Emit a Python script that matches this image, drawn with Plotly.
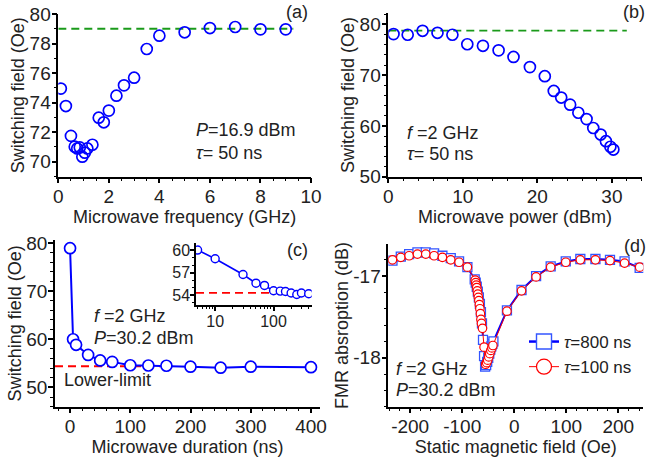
import plotly.graph_objects as go

W, H = 646, 461
FONT = "Liberation Sans, Arial, sans-serif"
TXT = "#222222"
BLUE = "#0000ff"
GREEN = "#1a9a1a"
RED = "#ff0000"
DASH = "8px,5px"

# ---------------- (a) switching field vs microwave frequency ----------------
freq_ghz = [0.1, 0.3, 0.5, 0.65, 0.75, 0.85, 0.95, 1.05, 1.15, 1.35, 1.6, 1.8,
            2.0, 2.3, 2.6, 3.0, 3.5, 4.0, 5.0, 6.0, 7.0, 8.0, 9.0]
hsw_a = [74.95, 73.77, 71.75, 71.02, 70.9, 70.97, 70.34, 70.61, 70.9, 71.15, 72.98, 72.67,
         73.46, 74.47, 75.17, 75.69, 77.63, 78.53, 78.76, 79.05, 79.12, 78.96, 78.96]
ref_a_x = [0, 9.3]
ref_a_y = [79.0, 79.0]

# ---------------- (b) switching field vs microwave power ----------------
power_dbm = [0.7, 2.6, 4.6, 6.6, 8.6, 10.6, 12.7, 14.8, 16.8, 19.0, 21.0, 22.2,
             23.2, 24.4, 25.5, 26.6, 27.5, 28.5, 29.2, 29.8, 30.2]
hsw_b = [78.1, 77.97, 78.75, 78.36, 77.97, 76.1, 75.8, 74.9, 73.6, 71.6, 69.8, 66.9,
         65.6, 64.2, 62.6, 61.35, 59.6, 58.3, 57.0, 55.9, 55.35]
ref_b_x = [0, 32]
ref_b_y = [78.8, 78.8]

# ---------------- (c) switching field vs microwave duration ----------------
duration_ns = [0, 5, 10, 30, 50, 70, 100, 130, 160, 200, 250, 300, 400]
hsw_c = [78.9, 60.0, 58.85, 56.75, 55.6, 55.3, 54.6, 54.55, 54.5, 54.3, 54.1, 54.3, 54.2]
lower_x = [-25, 150]
lower_inset_x = [4.7, 450]
lower_y = 54.4

# ---------------- (d) FMR absorption vs static field ----------------
field_100 = [-234, -218, -202, -186, -170, -154, -138, -122, -106, -90,
             -75, -74, -73, -72, -71, -70, -69, -68, -67, -66, -65, -64, -63, -61,
             -58, -55, -53, -51, -49, -47, -45, -43, -41,
             -14, 14, 42, 70, 99, 127, 156, 184, 212, 241]
fmr_100 = [-16.80, -16.77, -16.75, -16.73, -16.73, -16.75, -16.77, -16.80, -16.83, -16.89,
           -17.05, -17.08, -17.11, -17.14, -17.18, -17.22, -17.26, -17.30, -17.35, -17.40,
           -17.46, -17.53, -17.58, -17.64,
           -17.87, -18.08, -18.06, -18.03, -17.99, -17.95, -17.91, -17.88, -17.85,
           -17.43, -17.18, -17.01, -16.89, -16.83, -16.80, -16.80, -16.81, -16.84, -16.89]
field_800 = [-234, -218, -202, -186, -170, -154, -138, -122, -106, -90,
             -76, -74, -72, -70, -68, -66, -64, -62, -60, -58, -56, -54, -52, -50,
             -48, -46, -44, -42, -40,
             -14, 14, 42, 70, 99, 127, 156, 184, 212, 241]
fmr_800 = [-16.81, -16.76, -16.73, -16.71, -16.71, -16.72, -16.75, -16.78, -16.82, -16.89,
           -17.04, -17.08, -17.13, -17.19, -17.26, -17.34, -17.44, -17.58, -17.78, -17.98,
           -18.11, -18.09, -18.05, -18.00, -17.95, -17.90, -17.86, -17.83, -17.80,
           -17.42, -17.17, -17.00, -16.88, -16.82, -16.79, -16.79, -16.80, -16.82, -16.90]
legend_names = ["<i>τ</i>=800 ns", "<i>τ</i>=100 ns"]


def px(x):
    return x / W


def py(y):
    return 1 - y / H


def axis(domain, rng, anchor, dtick=None, minor=None, title=None, standoff=0,
         tickvals=None, ticktext=None, tick0=None, size=19, **kw):
    d = dict(domain=domain, range=rng, anchor=anchor, showline=True, linecolor="black",
             linewidth=1.5, ticks="outside", ticklen=5, tickwidth=1.5, tickcolor="black",
             showgrid=False, zeroline=False, automargin=False, ticklabelstandoff=-3,
             tickfont=dict(family=FONT, size=size, color=TXT))
    if dtick is not None:
        d["dtick"] = dtick
    if tick0 is not None:
        d["tick0"] = tick0
    if tickvals is not None:
        d["tickmode"] = "array"
        d["tickvals"] = tickvals
        if ticktext is not None:
            d["ticktext"] = ticktext
    if minor is not None:
        m = dict(ticks="outside", ticklen=3, tickwidth=1.2, tickcolor="black", showgrid=False)
        m.update(minor)
        d["minor"] = m
    if title:
        d["title"] = dict(text=title, standoff=standoff, font=dict(family=FONT, size=18, color=TXT))
    d.update(kw)
    return d


fig = go.Figure()

# (a)
fig.add_trace(go.Scatter(x=ref_a_x, y=ref_a_y, mode="lines", xaxis="x", yaxis="y",
                         line=dict(color=GREEN, width=1.8, dash=DASH), showlegend=False))
fig.add_trace(go.Scatter(x=freq_ghz, y=hsw_a, mode="markers", xaxis="x", yaxis="y",
                         marker=dict(symbol="circle-open", size=11, color=BLUE, line=dict(width=1.7)),
                         showlegend=False))
# (b)
fig.add_trace(go.Scatter(x=ref_b_x, y=ref_b_y, mode="lines", xaxis="x2", yaxis="y2",
                         line=dict(color=GREEN, width=1.8, dash=DASH), showlegend=False))
fig.add_trace(go.Scatter(x=power_dbm, y=hsw_b, mode="markers", xaxis="x2", yaxis="y2",
                         marker=dict(symbol="circle-open", size=11, color=BLUE, line=dict(width=1.7)),
                         showlegend=False))
# (c)
fig.add_trace(go.Scatter(x=lower_x, y=[lower_y, lower_y], mode="lines", xaxis="x3", yaxis="y3",
                         line=dict(color=RED, width=1.8, dash=DASH), showlegend=False))
fig.add_trace(go.Scatter(x=duration_ns, y=hsw_c, mode="lines+markers", xaxis="x3", yaxis="y3",
                         line=dict(color=BLUE, width=2),
                         marker=dict(symbol="circle", size=11, color="white",
                                     line=dict(color=BLUE, width=1.7)),
                         showlegend=False))
# inset
fig.add_trace(go.Scatter(x=lower_inset_x, y=[lower_y - 0.1, lower_y - 0.1], mode="lines",
                         xaxis="x5", yaxis="y5",
                         line=dict(color=RED, width=1.8, dash=DASH), showlegend=False))
fig.add_trace(go.Scatter(x=duration_ns[1:], y=hsw_c[1:], mode="lines+markers", xaxis="x5", yaxis="y5",
                         line=dict(color=BLUE, width=1.6),
                         marker=dict(symbol="circle", size=8, color="white",
                                     line=dict(color=BLUE, width=1.4)),
                         showlegend=False))
# (d)
fig.add_trace(go.Scatter(x=field_800, y=fmr_800, mode="lines+markers", xaxis="x4", yaxis="y4",
                         line=dict(color=BLUE, width=2),
                         marker=dict(symbol="square", size=9, color="white",
                                     line=dict(color="#3355ff", width=1.3)),
                         showlegend=False))
fig.add_trace(go.Scatter(x=field_100, y=fmr_100, mode="lines+markers", xaxis="x4", yaxis="y4",
                         line=dict(color=RED, width=1),
                         marker=dict(symbol="circle", size=8.5, color="white",
                                     line=dict(color=RED, width=1.2)),
                         showlegend=False))
# legend entries
fig.add_trace(go.Scatter(x=[None], y=[None], mode="lines+markers", xaxis="x4", yaxis="y4",
                         name=legend_names[0], line=dict(color=BLUE, width=2.5),
                         marker=dict(symbol="square", size=15, color="white",
                                     line=dict(color="#3355ff", width=1.4))))
fig.add_trace(go.Scatter(x=[None], y=[None], mode="lines+markers", xaxis="x4", yaxis="y4",
                         name=legend_names[1], line=dict(color=RED, width=1),
                         marker=dict(symbol="circle", size=15, color="white",
                                     line=dict(color=RED, width=1.2))))

inset_minor = [v * m for m in (1, 10, 100) for v in range(2, 10) if 4.7 <= v * m <= 450]

fig.update_layout(
    width=W, height=H, margin=dict(l=0, r=0, t=0, b=0),
    paper_bgcolor="white", plot_bgcolor="rgba(0,0,0,0)",
    font=dict(family=FONT, color=TXT),
    xaxis=axis([px(58.3), px(311)], [0, 10], "y", dtick=2, minor=dict(dtick=0.5),
               title="Microwave frequency (GHz)"),
    yaxis=axis([py(176.5), py(14)], [69, 80], "x", dtick=2, minor=dict(dtick=1),
               title="Switching field (Oe)"),
    xaxis2=axis([px(388.3), px(641.7)], [0, 34], "y2", dtick=10, minor=dict(dtick=2),
                title="Microwave power (dBm)"),
    yaxis2=axis([py(176.7), py(13.3)], [50, 82.2], "x2", dtick=10, minor=dict(dtick=2),
                title="Switching field (Oe)"),
    xaxis3=axis([px(55), px(320)], [-25, 415], "y3", dtick=100, tick0=0, minor=dict(dtick=20),
                title="Microwave duration (ns)"),
    yaxis3=axis([py(406.7), py(240)], [46, 80.6], "x3", dtick=10, tick0=0, minor=dict(dtick=2),
                title="Switching field (Oe)"),
    xaxis4=axis([px(388.3), px(643.3)], [-242, 248], "y4",
                tickvals=[-200, -100, 0, 100, 200], ticktext=["-200", "-100", "0", "100", "200"],
                minor=dict(dtick=20, tick0=0), title="Static magnetic field (Oe)"),
    yaxis4=axis([py(406.7), py(244.3)], [-18.6, -16.61], "x4",
                tickvals=[-18, -17], ticktext=["-18", "-17"],
                minor=dict(dtick=0.2, tick0=0), title="FMR absroption (dB)"),
    xaxis5=axis([px(196), px(311.7)], [0.672, 2.653], "y5", type="log",
                tickvals=[10, 100], ticktext=["10", "100"], ticklen=4, size=16,
                minor=dict(tickvals=inset_minor, ticklen=2)),
    yaxis5=axis([py(305), py(243.3)], [52.7, 60.9], "x5",
                tickvals=[54, 57, 60], ticktext=["54", "57", "60"], ticklen=4, size=16,
                minor=dict(dtick=1, tick0=0, ticklen=2)),
    legend=dict(x=px(524), y=py(324), xanchor="left", yanchor="top",
                bgcolor="rgba(0,0,0,0)", font=dict(family=FONT, size=17, color=TXT),
                tracegroupgap=0, itemwidth=30),
)

ann = [
    ("(a)", 297, 12, "center"),
    ("<i>P</i>=16.9 dBm", 194, 130, "left"),
    ("<i>τ</i>= 50 ns", 194, 153, "left"),
    ("(b)", 634, 12, "center"),
    ("<i>f</i> =2 GHz", 405, 133, "left"),
    ("<i>τ</i>= 50 ns", 405, 154, "left"),
    ("(c)", 297, 250, "center"),
    ("<i>f</i> =2 GHz", 92, 316, "left"),
    ("<i>P</i>=30.2 dBm", 92, 338, "left"),
    ("Lower-limit", 62, 380, "left"),
    ("(d)", 635, 246, "center"),
    ("<i>f</i> =2 GHz", 394, 369, "left"),
    ("<i>P</i>=30.2 dBm", 394, 390, "left"),
]
for text, x, y, anc in ann:
    fig.add_annotation(text=text, x=px(x), y=py(y), xref="paper", yref="paper",
                       xanchor=anc, yanchor="middle", showarrow=False,
                       font=dict(family=FONT, size=18, color=TXT))

fig.write_html("out.html", config={"displayModeBar": False},
               post_script="document.body.style.margin='0';document.body.style.padding='0';")
